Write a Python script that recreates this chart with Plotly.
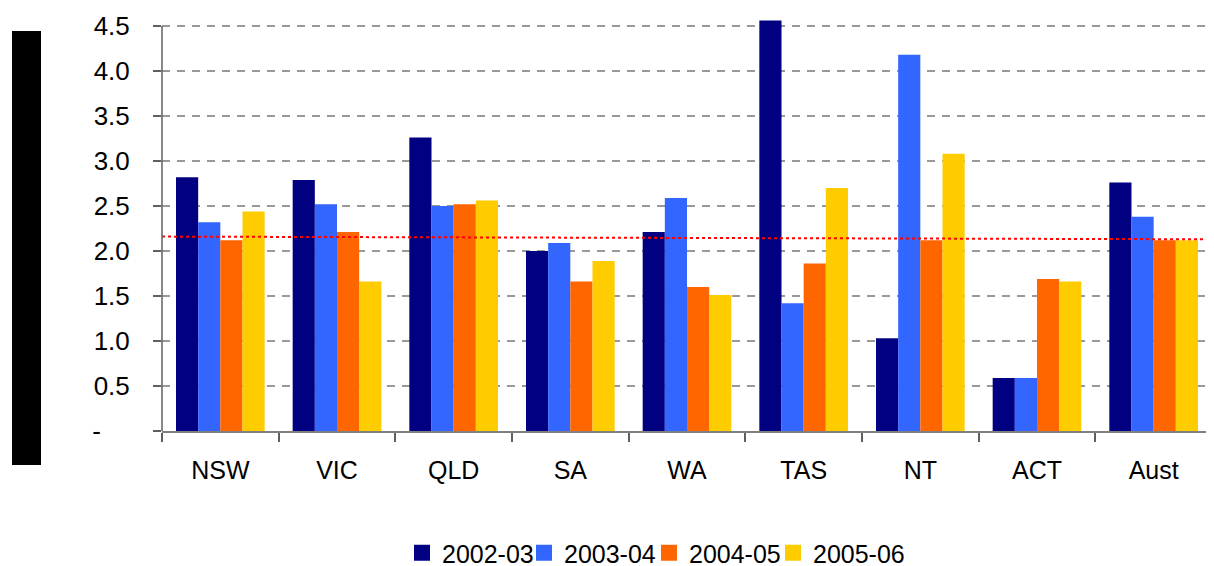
import plotly.graph_objects as go

categories = ["NSW", "VIC", "QLD", "SA", "WA", "TAS", "NT", "ACT", "Aust"]
series_names = ["2002-03", "2003-04", "2004-05", "2005-06"]
v_2002_03 = [2.82, 2.79, 3.26, 2.00, 2.21, 4.56, 1.03, 0.59, 2.76]
v_2003_04 = [2.32, 2.52, 2.50, 2.09, 2.59, 1.42, 4.18, 0.59, 2.38]
v_2004_05 = [2.12, 2.21, 2.52, 1.66, 1.60, 1.86, 2.12, 1.69, 2.12]
v_2005_06 = [2.44, 1.66, 2.56, 1.89, 1.51, 2.70, 3.08, 1.66, 2.12]
avg_line = [2.16, 2.13]
tick_vals = [0, 0.5, 1.0, 1.5, 2.0, 2.5, 3.0, 3.5, 4.0, 4.5]
tick_text = ["-\u00a0\u00a0\u00a0\u00a0", "0.5", "1.0", "1.5", "2.0", "2.5", "3.0", "3.5", "4.0", "4.5"]

colors = ["#000080", "#3366FF", "#FF6600", "#FFCC00"]
all_series = [v_2002_03, v_2003_04, v_2004_05, v_2005_06]

# page has an 8px body margin; figure drawn 8px smaller and offset
PL, PT, PW, PH = 154, 12, 1050, 411
legend_ids = ["legend", "legend2", "legend3", "legend4"]
legend_left_px = [416, 538, 663, 787]  # left edge of each legend swatch (page px)

fig = go.Figure()
for name, vals, c in zip(series_names, all_series, colors):
    fig.add_trace(go.Bar(x=categories, y=vals, name=name, legendgroup=name, showlegend=False,
                         marker=dict(color=c, line=dict(width=0))))
# legend entries with larger square swatches
for name, c, lid in zip(series_names, colors, legend_ids):
    fig.add_trace(go.Scatter(x=[None], y=[None], name=name, legendgroup=name, mode="markers",
                             marker=dict(symbol="square", size=16, color=c), showlegend=True,
                             legend=lid))

# average dotted line across the plot
fig.add_trace(go.Scatter(x=[0, 1], y=avg_line, xaxis="x2", mode="lines",
                         line=dict(color="#FF0000", width=2, dash="dot"),
                         showlegend=False, hoverinfo="skip"))

legend_layouts = {}
for lid, lx in zip(legend_ids, legend_left_px):
    legend_layouts[lid] = dict(orientation="h", x=(lx - 8 - 162 - 6) / PW, xanchor="left",
                               y=(431 - 553) / PH, yanchor="middle", font=dict(size=25),
                               itemwidth=30, bgcolor="rgba(0,0,0,0)")

fig.update_layout(
    width=1206, height=558,
    margin=dict(l=PL, r=2, t=PT, b=135, autoexpand=False),
    paper_bgcolor="white", plot_bgcolor="white",
    barmode="group", bargap=0.24, bargroupgap=0,
    font=dict(family="Arial, Liberation Sans, sans-serif", size=25, color="black"),
    showlegend=True,
    **legend_layouts,
    xaxis=dict(type="category", showgrid=False, showline=True, linecolor="#808080",
               linewidth=2, ticks="outside", tickson="boundaries", ticklen=9,
               tickcolor="#606060", tickwidth=1.5, tickfont=dict(size=25),
               ticklabelstandoff=16,
               range=[-0.5, 8.5], automargin=False),
    xaxis2=dict(overlaying="x", range=[0, 1], visible=False),
    yaxis=dict(range=[0, PH / 90], tickvals=tick_vals, ticktext=tick_text,
               showgrid=True, gridcolor="#999999", gridwidth=1.5, griddash="8px,7px",
               showline=False, ticks="outside", ticklen=8, tickcolor="#606060",
               tickwidth=1.5, ticklabelstandoff=18, tickfont=dict(size=26),
               zeroline=False, automargin=False),
    shapes=[
        dict(type="line", xref="paper", yref="y", x0=0, x1=0, y0=0, y1=4.5,
             line=dict(color="#606060", width=1.5)),
        dict(type="rect", xref="paper", yref="paper",
             x0=(12 - 162) / PW, x1=(41 - 162) / PW,
             y0=(431 - 465) / PH, y1=(431 - 31) / PH,
             fillcolor="black", line=dict(width=0)),
    ],
)

fig.write_html("out.html")
